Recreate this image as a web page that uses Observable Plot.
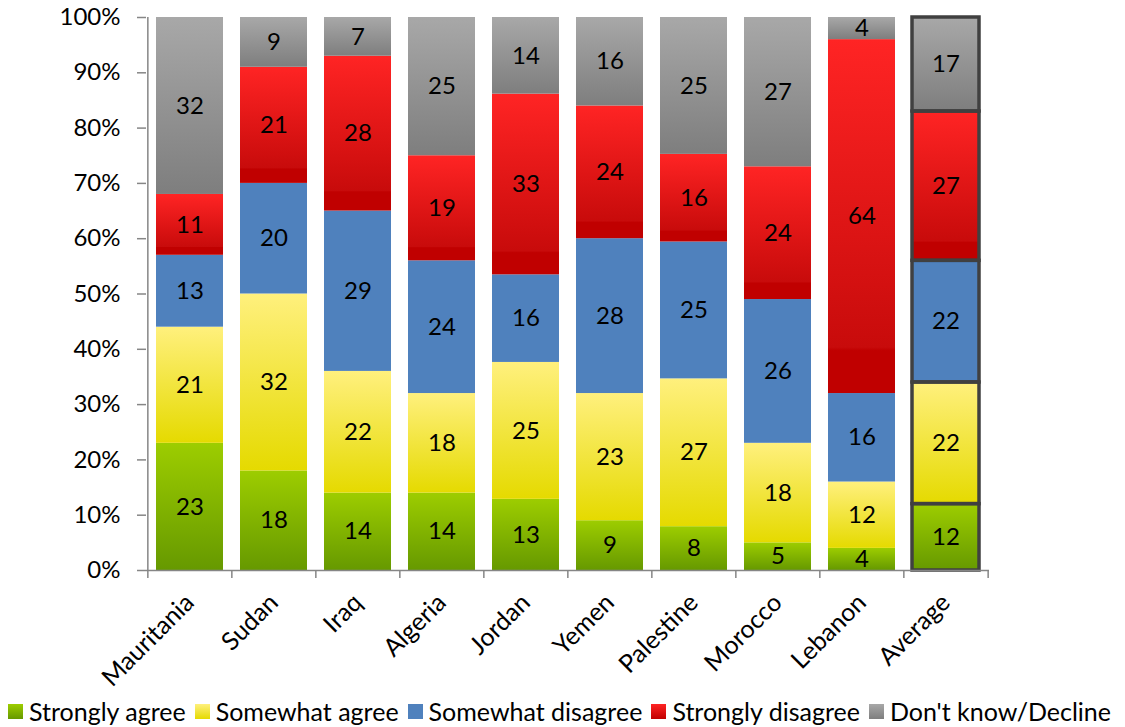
<!DOCTYPE html>
<html>
<head>
<meta charset="utf-8">
<script src="https://cdn.jsdelivr.net/npm/d3@7"></script>
<script src="https://cdn.jsdelivr.net/npm/@observablehq/plot@0.6"></script>
<style>
  html, body { margin: 0; padding: 0; background: white; }
  #legend { display: flex; align-items: center; font-family: Lato, sans-serif; font-size: 25px; color: black; padding-left: 8px; height: 32px; }
  #legend .item { display: flex; align-items: center; margin-right: 9px; white-space: nowrap; flex-shrink: 0; }
  #legend .sw { width: 15px; height: 15px; margin-right: 6px; flex-shrink: 0; }
</style>
</head>
<body>
<svg width="0" height="0" style="position:absolute">
  <defs>
    <linearGradient id="g-green" x1="0" y1="0" x2="0" y2="1">
      <stop offset="0" stop-color="#9dcd00"/>
      <stop offset="1" stop-color="#669900"/>
    </linearGradient>
    <linearGradient id="g-yellow" x1="0" y1="0" x2="0" y2="1">
      <stop offset="0" stop-color="#fff07d"/>
      <stop offset="1" stop-color="#e5da00"/>
    </linearGradient>
    <linearGradient id="g-blue" x1="0" y1="0" x2="0" y2="1">
      <stop offset="0" stop-color="#4f81bd"/>
      <stop offset="1" stop-color="#4f81bd"/>
    </linearGradient>
    <linearGradient id="g-red" x1="0" y1="0" x2="0" y2="1">
      <stop offset="0" stop-color="#ff2424"/>
      <stop offset="0.87" stop-color="#c80b0b"/>
      <stop offset="0.88" stop-color="#c00000"/>
      <stop offset="1" stop-color="#c00000"/>
    </linearGradient>
    <linearGradient id="g-gray" x1="0" y1="0" x2="0" y2="1">
      <stop offset="0" stop-color="#a8a8a8"/>
      <stop offset="1" stop-color="#7e7e7e"/>
    </linearGradient>
  </defs>
</svg>
<div id="chart"></div>
<div id="legend"></div>
<script>
const countries = ["Mauritania","Sudan","Iraq","Algeria","Jordan","Yemen","Palestine","Morocco","Lebanon","Average"];
const categories = ["Strongly agree","Somewhat agree","Somewhat disagree","Strongly disagree","Don't know/Decline"];
const stronglyAgree    = [23,18,14,14,13, 9, 8, 5, 4,12];
const somewhatAgree    = [21,32,22,18,25,23,27,18,12,22];
const somewhatDisagree = [13,20,29,24,16,28,25,26,16,22];
const stronglyDisagree = [11,21,28,19,33,24,16,24,64,27];
const dontKnow         = [32, 9, 7,25,14,16,25,27, 4,17];
const yTicks = [0,0.1,0.2,0.3,0.4,0.5,0.6,0.7,0.8,0.9,1];

const gradIds = ["g-green","g-yellow","g-blue","g-red","g-gray"];
const cssGrads = [
  "linear-gradient(#9dcd00,#669900)",
  "linear-gradient(#fff07d,#e5da00)",
  "#4f81bd",
  "linear-gradient(#ff2424,#c00000)",
  "linear-gradient(#a8a8a8,#7e7e7e)"
];

const series = [stronglyAgree, somewhatAgree, somewhatDisagree, stronglyDisagree, dontKnow];
const data = countries.flatMap((c, i) => categories.map((k, j) => ({country: c, category: k, value: series[j][i]})));

const W = 1125, H = 695, ML = 146, MR = 136, MT = 17, MB = 125;
const step = (W - ML - MR) / countries.length;
const axisGray = "#868686";

const stackOpts = {x: "country", y: "value", z: "category", offset: "normalize", order: categories};

const chart = Plot.plot({
  width: W, height: H,
  marginLeft: ML, marginRight: MR, marginTop: MT, marginBottom: MB,
  style: {fontFamily: "Lato, sans-serif", fontSize: "24px", color: "black", background: "white", overflow: "visible"},
  x: {domain: countries, paddingInner: 0.2, paddingOuter: 0.1, axis: null, label: null},
  y: {domain: [0, 1], axis: null, label: null},
  color: {domain: categories, range: gradIds.map(id => `url(#${id})`)},
  marks: [
    Plot.barY(data, Plot.stackY({...stackOpts, fill: "category"})),
    Plot.barY(data.filter(d => d.country === "Average"), Plot.stackY({...stackOpts, fill: "none", stroke: "#404040", strokeWidth: 3.5})),
    Plot.text(data, Plot.stackY({...stackOpts, text: "value", fill: "black"})),
    Plot.ruleY([0], {stroke: axisGray, strokeWidth: 1.5}),
    Plot.ruleX([countries[0]], {y1: 0, y2: 1, dx: -step / 2, stroke: axisGray, strokeWidth: 1.5}),
    Plot.axisY({ticks: yTicks, tickFormat: d3.format(".0%"), tickSize: 9, tickPadding: 17, stroke: axisGray, strokeWidth: 1.5, fill: "black", label: null}),
    Plot.axisX(countries, {tickSize: 8, dx: -step / 2, tickFormat: () => "", stroke: axisGray, strokeWidth: 1.5, label: null}),
    Plot.axisX([countries[countries.length - 1]], {tickSize: 8, dx: step / 2, tickFormat: () => "", stroke: axisGray, strokeWidth: 1.5, label: null}),
    Plot.axisX({tickSize: 0, tickRotate: -45, tickPadding: 28, fontSize: 25, fill: "black", label: null})
  ]
});
document.getElementById("chart").appendChild(chart);

const legend = document.getElementById("legend");
categories.forEach((k, j) => {
  const item = document.createElement("div");
  item.className = "item";
  const sw = document.createElement("span");
  sw.className = "sw";
  sw.style.background = cssGrads[j];
  const t = document.createElement("span");
  t.textContent = k;
  item.appendChild(sw);
  item.appendChild(t);
  legend.appendChild(item);
});
</script>
</body>
</html>
